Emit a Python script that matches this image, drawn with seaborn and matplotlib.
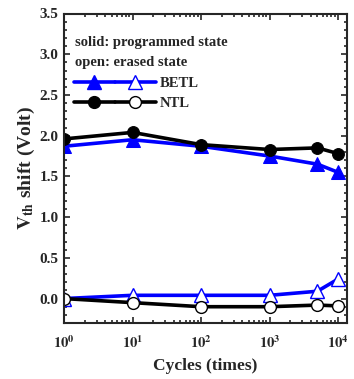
import matplotlib
matplotlib.use("Agg")
import matplotlib.pyplot as plt
import seaborn as sns
import numpy as np
import pandas as pd
from matplotlib.lines import Line2D
from matplotlib.legend_handler import HandlerTuple
from matplotlib.ticker import FixedLocator, MultipleLocator, LogLocator, NullFormatter

cycles = [1, 10, 100, 1000, 5000, 10000]
betl_prog = [1.87, 1.95, 1.87, 1.75, 1.65, 1.55]
ntl_prog = [1.96, 2.04, 1.89, 1.83, 1.85, 1.78]
betl_erase = [0.0, 0.04, 0.04, 0.04, 0.09, 0.24]
ntl_erase = [0.0, -0.05, -0.1, -0.1, -0.08, -0.09]
xticks = [1, 10, 100, 1000, 10000]
xticklabels = [r"$\mathbf{10^{0}}$", r"$\mathbf{10^{1}}$", r"$\mathbf{10^{2}}$", r"$\mathbf{10^{3}}$", r"$\mathbf{10^{4}}$"]
yticks = [0.0, 0.5, 1.0, 1.5, 2.0, 2.5, 3.0, 3.5]

sns.set_style("ticks")
plt.rcParams['font.family'] = ['Liberation Serif', 'DejaVu Serif']
plt.rcParams['font.weight'] = 'bold'
plt.rcParams['mathtext.fontset'] = 'stix'

fig = plt.figure(figsize=(3.54, 3.79), dpi=100)
ax = fig.add_axes([64/354, 1-323/379, 283/354, 309.5/379])

blue = '#0000ff'
ms = 8.5
lw = 2.6
sns.lineplot(x=cycles, y=betl_prog, ax=ax, color=blue, lw=lw, marker='^', ms=ms+1.5,
             markerfacecolor=blue, markeredgecolor=blue)
sns.lineplot(x=cycles, y=ntl_prog, ax=ax, color='black', lw=lw, marker='o', ms=ms,
             markerfacecolor='black', markeredgecolor='black')
sns.lineplot(x=cycles, y=betl_erase, ax=ax, color=blue, lw=lw, marker='^', ms=ms+1.5,
             markerfacecolor='white', markeredgecolor=blue, markeredgewidth=1.0)
sns.lineplot(x=cycles, y=ntl_erase, ax=ax, color='black', lw=lw, marker='o', ms=ms,
             markerfacecolor='white', markeredgecolor='black', markeredgewidth=1.0)

ax.set_xscale('log')
ax.set_xlim(1, 10**4.13)
ax.set_ylim(-0.3, 3.5)
ax.set_xticks(xticks)
ax.set_xticklabels(xticklabels)
ax.xaxis.set_minor_locator(LogLocator(base=10, subs=np.arange(2, 10)))
ax.xaxis.set_minor_formatter(NullFormatter())
ax.set_yticks(yticks)
ax.set_yticklabels([f"{v:.1f}" for v in yticks])
ax.yaxis.set_minor_locator(MultipleLocator(0.1))
ax.tick_params(which='both', direction='in', top=True, right=True, width=1.2)
ax.tick_params(which='major', length=4)
ax.tick_params(which='minor', length=2)
ax.tick_params(axis='x', which='major', labelsize=10.5, pad=8)
ax.tick_params(axis='y', which='major', labelsize=11, pad=4)
for lab in ax.get_yticklabels():
    lab.set_fontweight('bold')
for s in ax.spines.values():
    s.set_linewidth(1.5)

ax.set_xlabel('Cycles (times)', fontsize=12.5, fontweight='bold', labelpad=5)
ax.set_ylabel(r'$\mathbf{V_{th}}$ shift (Volt)', fontsize=14, fontweight='bold', labelpad=2)

ax.text(0.039, 0.905, 'solid: programmed state', transform=ax.transAxes, fontsize=10.5,
        fontweight='bold', va='center', ha='left')
ax.text(0.039, 0.843, 'open: erased state', transform=ax.transAxes, fontsize=10.5,
        fontweight='bold', va='center', ha='left')

h_bf = Line2D([], [], color=blue, lw=lw, marker='^', ms=ms+1.5, mfc=blue, mec=blue)
h_bo = Line2D([], [], color=blue, lw=lw, marker='^', ms=ms+1.5, mfc='white', mec=blue, mew=1.0)
h_nf = Line2D([], [], color='black', lw=lw, marker='o', ms=ms, mfc='black', mec='black')
h_no = Line2D([], [], color='black', lw=lw, marker='o', ms=ms, mfc='white', mec='black', mew=1.0)
leg = ax.legend([(h_bf, h_bo), (h_nf, h_no)], ['BETL', 'NTL'],
                handler_map={tuple: HandlerTuple(ndivide=None, pad=0.0)},
                loc='upper left', bbox_to_anchor=(0.035, 0.795), frameon=False,
                handlelength=5.6, handletextpad=0.3, borderpad=0, borderaxespad=0,
                labelspacing=0.45, prop={'weight': 'bold', 'size': 10.5, 'family': 'Liberation Serif'})

fig.savefig('out.png', dpi=100)
